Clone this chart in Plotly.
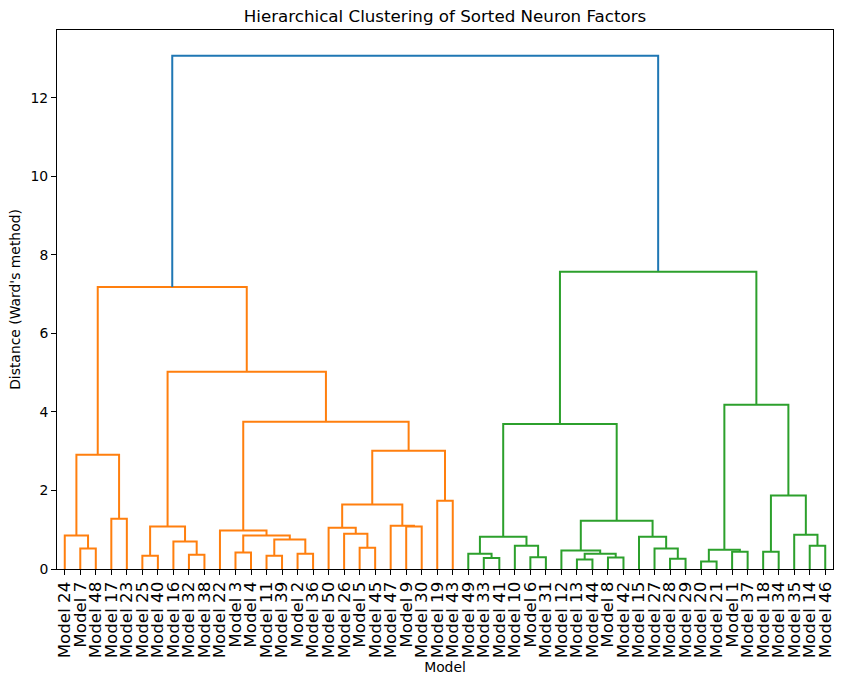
import plotly.graph_objects as go

# Leaf order (left to right) as shown on the x axis
LEAF_LABELS = [
    "Model 24", "Model 7", "Model 48", "Model 17", "Model 23", "Model 25", "Model 40",
    "Model 16", "Model 32", "Model 38", "Model 22", "Model 3", "Model 4", "Model 11",
    "Model 39", "Model 2", "Model 36", "Model 50", "Model 26", "Model 5", "Model 45",
    "Model 47", "Model 9", "Model 30", "Model 19", "Model 43", "Model 49", "Model 33",
    "Model 41", "Model 10", "Model 6", "Model 31", "Model 12", "Model 13", "Model 44",
    "Model 8", "Model 42", "Model 15", "Model 27", "Model 28", "Model 29", "Model 20",
    "Model 21", "Model 1", "Model 37", "Model 18", "Model 34", "Model 35", "Model 14",
    "Model 46",
]

# Linkage: each merge joins a left and right child (leaf label or index of earlier merge)
MERGE_LEFT = [
    "Model 7", "Model 24", "Model 17", 1, "Model 25", "Model 32", "Model 16", 4,
    "Model 3", "Model 11", "Model 2", 9, 8, "Model 22", "Model 5", "Model 26",
    "Model 50", "Model 9", "Model 47", 16, "Model 19", 19, 13, 7, 3,
    "Model 33", "Model 49", "Model 6", "Model 10", 26, "Model 13", "Model 8", 30,
    "Model 12", "Model 28", "Model 27", "Model 15", 33, 29, "Model 20", "Model 1",
    39, "Model 18", "Model 14", "Model 35", 42, 41, 38, 24,
]
MERGE_RIGHT = [
    "Model 48", 0, "Model 23", 2, "Model 40", "Model 38", 5, 6,
    "Model 4", "Model 39", "Model 36", 10, 11, 12, "Model 45", 14,
    15, "Model 30", 17, 18, "Model 43", 20, 21, 22, 23,
    "Model 41", 25, "Model 31", 27, 28, "Model 44", "Model 42", 31,
    32, "Model 29", 34, 35, 36, 37, "Model 21", "Model 37",
    40, "Model 34", "Model 46", 43, 44, 45, 46, 47,
]
MERGE_HEIGHT = [
    0.52, 0.85, 1.28, 2.91, 0.34, 0.36, 0.70, 1.08,
    0.42, 0.34, 0.39, 0.75, 0.85, 0.98, 0.54, 0.90,
    1.05, 1.08, 1.10, 1.64, 1.74, 3.01, 3.75, 5.02, 7.18,
    0.28, 0.39, 0.30, 0.59, 0.82, 0.24, 0.29, 0.39,
    0.47, 0.26, 0.52, 0.82, 1.23, 3.69, 0.19, 0.44,
    0.49, 0.44, 0.59, 0.87, 1.87, 4.18, 7.57, 13.07,
]

PALETTE = ["#ff7f0e", "#2ca02c", "#d62728", "#9467bd", "#8c564b"]
ABOVE_COLOR = "#1f77b4"

leaf_x = {lab: 5 + 10 * i for i, lab in enumerate(LEAF_LABELS)}
threshold = 0.7 * max(MERGE_HEIGHT)


def pos(node):
    if isinstance(node, str):
        return leaf_x[node], 0.0
    xl, _ = pos(MERGE_LEFT[node])
    xr, _ = pos(MERGE_RIGHT[node])
    return (xl + xr) / 2, MERGE_HEIGHT[node]


segments = {}
color_idx = [0]


def walk(k, color):
    h = MERGE_HEIGHT[k]
    if color is None and h < threshold:
        color = PALETTE[color_idx[0] % len(PALETTE)]
        color_idx[0] += 1
    c = color if color is not None else ABOVE_COLOR
    xl, hl = pos(MERGE_LEFT[k])
    xr, hr = pos(MERGE_RIGHT[k])
    if not isinstance(MERGE_LEFT[k], str):
        walk(MERGE_LEFT[k], color)
    xs, ys = segments.setdefault(c, ([], []))
    xs.extend([xl, xl, xr, xr, None])
    ys.extend([hl, h, h, hr, None])
    if not isinstance(MERGE_RIGHT[k], str):
        walk(MERGE_RIGHT[k], color)


walk(len(MERGE_HEIGHT) - 1, None)

fig = go.Figure()
for c, (xs, ys) in segments.items():
    fig.add_trace(go.Scatter(x=xs, y=ys, mode="lines",
                             line=dict(color=c, width=2),
                             hoverinfo="skip", showlegend=False))

fig.update_layout(
    width=842, height=685,
    margin=dict(l=57, r=9, t=30, b=116),
    plot_bgcolor="white", paper_bgcolor="white",
    font=dict(family="DejaVu Sans", color="black", size=13.9),
    title=dict(text="Hierarchical Clustering of Sorted Neuron Factors",
               x=0.5, xref="paper", xanchor="center",
               y=1 - 16 / 685, yref="container", yanchor="middle",
               font=dict(size=16.7, color="black")),
    showlegend=False,
)
fig.update_xaxes(
    range=[0, 10 * len(LEAF_LABELS)],
    tickmode="array",
    tickvals=[leaf_x[l] for l in LEAF_LABELS],
    ticktext=LEAF_LABELS,
    tickangle=-90,
    tickfont=dict(size=16.7),
    ticks="outside", ticklen=5, tickcolor="black", tickwidth=1,
    showline=True, linecolor="black", linewidth=1, mirror=True,
    showgrid=False, zeroline=False,
    title=dict(text="Model", standoff=4, font=dict(size=13.9)),
    automargin=False,
)
fig.update_yaxes(
    range=[0, max(MERGE_HEIGHT) * 1.05],
    tick0=0, dtick=2,
    ticks="outside", ticklen=5, tickcolor="black", tickwidth=1,
    showline=True, linecolor="black", linewidth=1, mirror=True,
    showgrid=False, zeroline=False,
    title=dict(text="Distance (Ward's method)", standoff=6, font=dict(size=13.9)),
    automargin=False,
)

fig.write_html("out.html",
               config={"displayModeBar": False},
               post_script="document.body.style.margin='0';document.body.style.overflow='hidden';")
